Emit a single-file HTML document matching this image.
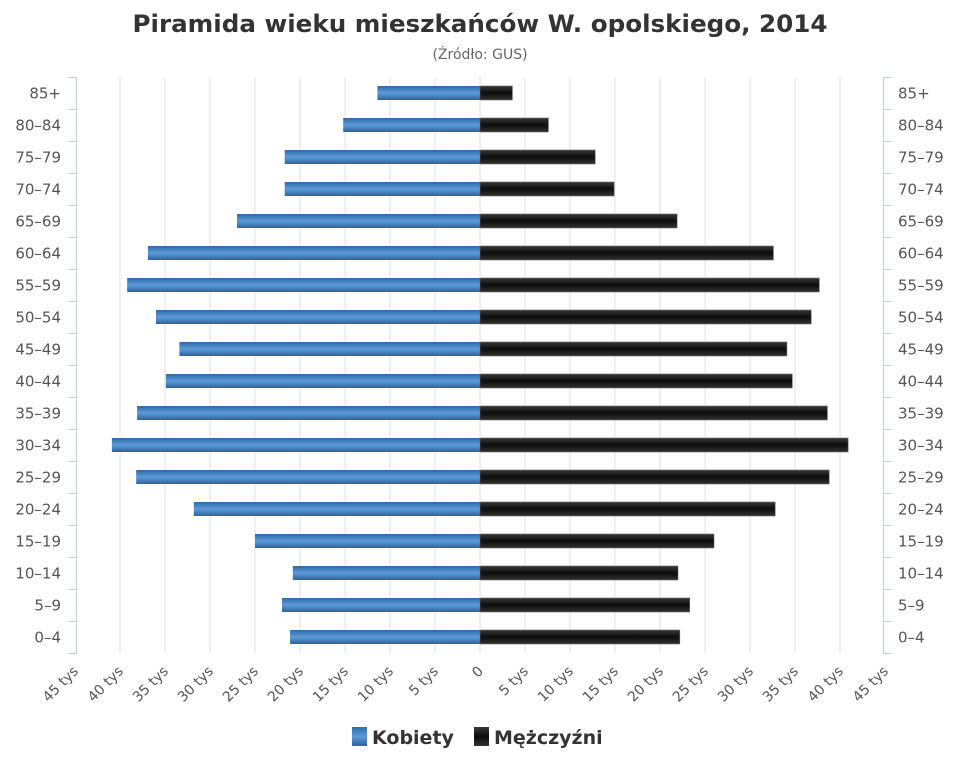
<!DOCTYPE html>
<html><head><meta charset="utf-8"><style>
html,body{margin:0;padding:0;background:#fff;}
svg{display:block;font-family:"DejaVu Sans","Liberation Sans",sans-serif;}
</style></head><body>
<svg id="c" width="960" height="768" viewBox="0 0 960 768" xmlns="http://www.w3.org/2000/svg">
<defs>
<linearGradient id="gb" x1="0" y1="0" x2="0" y2="1">
<stop offset="0" stop-color="#2f6aa8"/><stop offset="0.5" stop-color="#5c9ad8"/><stop offset="1" stop-color="#2c64a0"/>
</linearGradient>
<linearGradient id="gk" x1="0" y1="0" x2="0" y2="1">
<stop offset="0" stop-color="#3a3a3a"/><stop offset="0.5" stop-color="#0c0c0c"/><stop offset="1" stop-color="#333"/>
</linearGradient>
</defs>
<text x="480" y="32" text-anchor="middle" font-size="24" font-weight="bold" fill="#333" textLength="695" lengthAdjust="spacingAndGlyphs">Piramida wieku mieszkańców W. opolskiego, 2014</text>
<text x="480" y="59" text-anchor="middle" font-size="14" fill="#666">(Źródło: GUS)</text>
<g id="g"></g>
<text x="372" y="744" font-size="19" font-weight="bold" fill="#333">Kobiety</text>
<rect x="352" y="727" width="15" height="19" fill="url(#gb)"/>
<rect x="474" y="727" width="15" height="19" fill="url(#gk)"/>
<text x="494" y="744" font-size="19" font-weight="bold" fill="#333">Mężczyźni</text>
</svg>
<script>
(function(){
var g=document.getElementById('g'),s='';
var cats=['85+','80–84','75–79','70–74','65–69','60–64','55–59','50–54','45–49','40–44','35–39','30–34','25–29','20–24','15–19','10–14','5–9','0–4'];
var w=[11.4,15.2,21.7,21.7,27,36.9,39.2,36,33.4,34.9,38.1,40.9,38.2,31.8,25,20.8,22,21.1];
var m=[3.6,7.6,12.8,14.9,21.9,32.6,37.7,36.8,34.1,34.7,38.6,40.9,38.8,32.8,26,22,23.3,22.2];
var T=77,B=653,step=(B-T)/18;
for(var i=-9;i<=9;i++){var x=480+i*45;if(i==0||Math.abs(i)==9)continue;s+='<line x1="'+x+'" y1="'+T+'" x2="'+x+'" y2="'+B+'" stroke="#e2e2e2" stroke-width="1"/>';}
s+='<line x1="480" y1="'+T+'" x2="480" y2="'+B+'" stroke="#ddd"/>';
s+='<line x1="76.5" y1="'+T+'" x2="76.5" y2="'+B+'" stroke="#c0d0e0"/>';
s+='<line x1="883.5" y1="'+T+'" x2="883.5" y2="'+B+'" stroke="#c0d0e0"/>';
for(var k=0;k<=18;k++){var y=Math.round(T+k*step)+0.5;s+='<line x1="68" y1="'+y+'" x2="77" y2="'+y+'" stroke="#c0d0e0"/><line x1="883" y1="'+y+'" x2="892" y2="'+y+'" stroke="#c0d0e0"/>';}
for(var k=0;k<18;k++){var cy=T+(k+0.5)*step;
s+='<text x="61" y="'+(cy+5.5)+'" text-anchor="end" font-size="15" fill="#555">'+cats[k]+'</text>';
s+='<text x="898" y="'+(cy+5.5)+'" font-size="15" fill="#555">'+cats[k]+'</text>';
var ww=w[k]*9,mw=m[k]*9;
s+='<rect x="'+(480-ww)+'" y="'+(cy-7)+'" width="'+ww+'" height="14" fill="url(#gb)"/>';
s+='<rect x="480" y="'+(cy-7)+'" width="'+mw+'" height="14" fill="url(#gk)" stroke="#666" stroke-width="0.6"/>';}
for(var i=-9;i<=9;i++){var x=480+i*45;var lab=i==0?'0':Math.abs(i*5)+' tys';
s+='<text transform="translate('+(x+4)+',672) rotate(-45)" text-anchor="end" font-size="14" fill="#555">'+lab+'</text>';}
g.innerHTML=s;
})();
</script>
</body></html>
